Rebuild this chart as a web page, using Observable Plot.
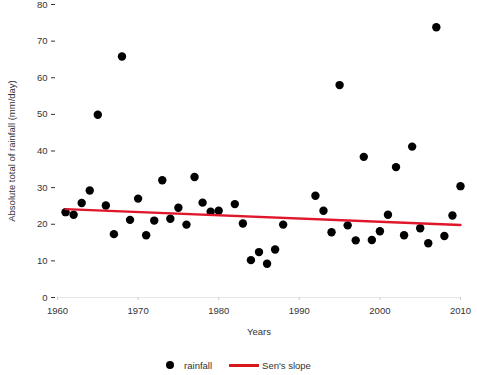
<!DOCTYPE html>
<html><head><meta charset="utf-8">
<script src="https://cdn.jsdelivr.net/npm/d3@7"></script>
<script src="https://cdn.jsdelivr.net/npm/@observablehq/plot@0.6"></script>
<style>
body{margin:0;background:#fff;font-family:"Liberation Sans",Arial,sans-serif;}
#legend{height:30px;display:flex;align-items:center;justify-content:center;font-size:9.5px;color:#333;padding:10px 0 0 0;box-sizing:border-box;}
#legend .dot{width:8px;height:8px;border-radius:50%;background:#000;display:inline-block;margin-right:10px;}
#legend .ln{width:30px;height:3px;background:#d7191c;display:inline-block;margin:0 3px 0 17px;}
</style></head><body>
<div id="chart"></div>
<div id="legend"><span class="dot"></span><span>rainfall</span><span class="ln"></span><span>Sen's slope</span></div>
<script>
const years = [1961,1962,1963,1964,1965,1966,1967,1968,1969,1970,1971,1972,1973,1974,1975,1976,1977,1978,1979,1980,
  1982,1983,1984,1985,1986,1987,1988,
  1992,1993,1994,1995,1996,1997,1998,1999,2000,2001,2002,2003,2004,2005,2006,2007,2008,2009,2010];
const rainfall = [23.3,22.6,25.8,29.2,49.9,25.1,17.3,65.8,21.2,27.0,17.0,21.0,32.0,21.5,24.5,19.9,32.9,25.9,23.4,23.7,
  25.5,20.2,10.2,12.4,9.2,13.1,19.9,
  27.8,23.7,17.8,58.0,19.7,15.6,38.4,15.7,18.1,22.6,35.6,17.0,41.2,18.9,14.8,73.8,16.8,22.4,30.4];
const xTicks = [1960,1970,1980,1990,2000,2010];
const yTicks = [0,10,20,30,40,50,60,70,80];
const seriesLabel = "rainfall";
const trendLabel = "Sen's slope";
const xLabel = "Years";
const yLabel = "Absolute total of rainfall (mm/day)";

const data = years.map((y,i)=>({year:y, value:rainfall[i]}));

// Theil–Sen estimator computed from the data
const slopes = [];
for (let i=0;i<data.length;i++) for (let j=i+1;j<data.length;j++)
  slopes.push((data[j].value-data[i].value)/(data[j].year-data[i].year));
const b = d3.median(slopes);
const a = d3.median(data, d => d.value - b*d.year);
const x0 = d3.min(years), x1 = d3.max(years);
const trend = [{year:x0, value:a+b*x0},{year:x1, value:a+b*x1}];

const chart = Plot.plot({
  width: 477, height: 345,
  marginTop: 4, marginBottom: 48, marginLeft: 57, marginRight: 17,
  style: {fontSize: "9.5px", fontFamily: "Liberation Sans, Arial, sans-serif", color: "#333", overflow: "visible"},
  x: {domain: [1960, 2010]},
  y: {domain: [0, 80]},
  marks: [
    Plot.ruleY([0], {stroke: "#e6e6e6"}),
    Plot.axisX({ticks: xTicks, tickFormat: d => String(d), tickSize: 3, stroke: "#ccc", tickPadding: 7,
      label: xLabel, labelAnchor: "center", labelArrow: false, labelOffset: 37}),
    Plot.axisY({ticks: yTicks, tickSize: 4, tickPadding: 4, dx: -2,
      label: yLabel, labelAnchor: "center", labelArrow: false, labelOffset: 49}),
    Plot.dot(data, {x: "year", y: "value", r: 4.2, fill: "#000", stroke: "none"}),
    Plot.line(trend, {x: "year", y: "value", stroke: "#e0162b", strokeWidth: 2.3})
  ]
});
document.getElementById("chart").append(chart);
</script>
</body></html>
